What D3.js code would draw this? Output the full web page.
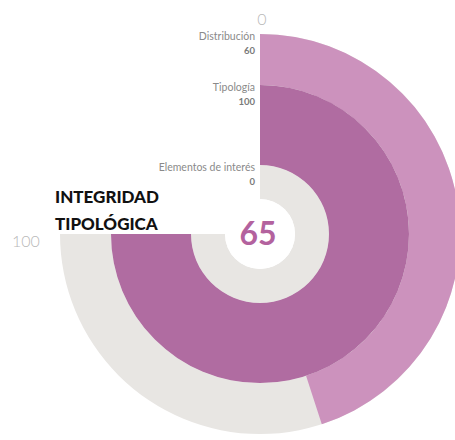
<!DOCTYPE html>
<html>
<head>
<meta charset="utf-8">
<script src="https://cdn.jsdelivr.net/npm/d3@7"></script>
<style>
  html, body { margin: 0; padding: 0; background: #fff; }
  svg { display: block; }
  text { font-family: Lato, "Open Sans", sans-serif; }
</style>
</head>
<body>
<svg id="chart" width="455" height="440"></svg>
<script>
// Indicator components, outermost ring first
const categories = ["Distribución", "Tipología", "Elementos de interés"];
const values = [60, 100, 0];
const total = 65;
const title = ["INTEGRIDAD", "TIPOLÓGICA"];
const scaleTicks = [0, 100];

const width = 455, height = 440;
const cx = 260, cy = 234;

// ring radii (outer ring first): [inner, outer]
const rings = [[149, 200], [69, 149], [35, 69]];
const ringColors = ["#cc92bd", "#b06ca1", "#b06ca1"];
const trackColor = "#e8e6e3";

const svg = d3.select("#chart");
const g = svg.append("g").attr("transform", `translate(${cx},${cy})`);

// three quarters of a turn, clockwise from the top
const angle = d3.scaleLinear().domain([0, 100]).range([0, 1.5 * Math.PI]);

const arc = d3.arc();

// background tracks
g.selectAll("path.track")
  .data(categories)
  .join("path")
  .attr("class", "track")
  .attr("fill", trackColor)
  .attr("d", (d, i) => arc({
    innerRadius: rings[i][0], outerRadius: rings[i][1],
    startAngle: angle(0), endAngle: angle(100)
  }));

// value bars
g.selectAll("path.bar")
  .data(values)
  .join("path")
  .attr("class", "bar")
  .attr("fill", (d, i) => ringColors[i])
  .attr("d", (d, i) => arc({
    innerRadius: rings[i][0], outerRadius: rings[i][1],
    startAngle: angle(0), endAngle: angle(d)
  }));

// white centre
g.append("circle").attr("r", rings[2][0]).attr("fill", "#fff");

// ring labels, right-aligned against the start of each ring
const labels = g.selectAll("g.lab")
  .data(categories)
  .join("g")
  .attr("class", "lab")
  .attr("transform", (d, i) => `translate(-5,${-rings[i][1]})`);

labels.append("text")
  .attr("y", 6)
  .attr("text-anchor", "end")
  .attr("font-size", 10.5)
  .attr("fill", "#8a8a8a")
  .text(d => d);

labels.append("text")
  .attr("y", 20)
  .attr("text-anchor", "end")
  .attr("font-size", 9.5)
  .attr("font-weight", 700)
  .attr("fill", "#7a7a7a")
  .text((d, i) => values[i]);

// scale end labels
const outerR = rings[0][1];
g.append("text")
  .attr("x", 2).attr("y", -outerR - 9)
  .attr("text-anchor", "middle")
  .attr("font-size", 16).attr("font-weight", 300)
  .attr("fill", "#b8b8b8")
  .text(scaleTicks[0]);

g.append("text")
  .attr("x", -outerR - 48).attr("y", 13)
  .attr("font-size", 16).attr("font-weight", 300)
  .attr("fill", "#b8b8b8")
  .text(scaleTicks[1]);

// total in the middle
g.append("text")
  .attr("x", -2).attr("y", 11)
  .attr("text-anchor", "middle")
  .attr("font-size", 32).attr("font-weight", 700)
  .attr("fill", "#b3629e")
  .text(total);

// title
svg.selectAll("text.title")
  .data(title)
  .join("text")
  .attr("class", "title")
  .attr("x", 55)
  .attr("y", (d, i) => 203 + i * 27)
  .attr("font-size", 17)
  .attr("font-weight", 900)
  .attr("fill", "#111")
  .text(d => d);
</script>
</body>
</html>
